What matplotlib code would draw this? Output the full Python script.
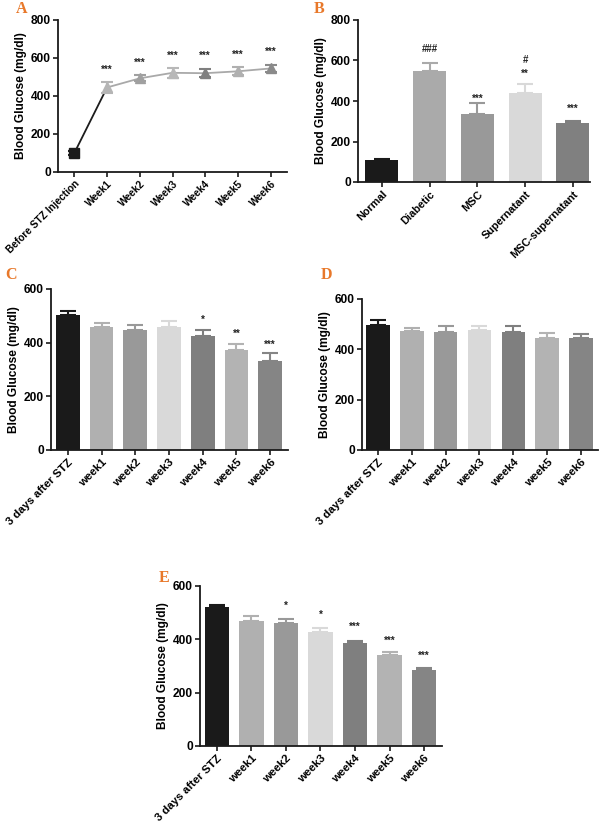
import matplotlib
matplotlib.use("Agg")
import matplotlib.pyplot as plt
import matplotlib.transforms as mtransforms

plt.rcParams['font.family'] = ['Liberation Sans', 'DejaVu Sans']
plt.rcParams['font.weight'] = 'bold'

# ---------------- Data ----------------
# Panel A
a_labels = ["Before STZ Injection", "Week1", "Week2", "Week3", "Week4", "Week5", "Week6"]
a_means = [100, 445, 493, 522, 520, 530, 545]
a_errs = [8, 28, 15, 25, 22, 22, 18]
a_colors = ["#1c1c1c", "#b5b5b5", "#a0a0a0", "#b8b8b8", "#7f7f7f", "#b0b0b0", "#8a8a8a"]
a_markers = ["s", "^", "^", "^", "^", "^", "^"]
a_annot = ["", "***", "***", "***", "***", "***", "***"]
a_annot_y = [0, 553, 586, 626, 626, 632, 647]

# Panel B
b_labels = ["Normal", "Diabetic", "MSC", "Supernatant", "MSC-supernatant"]
b_means = [110, 550, 337, 441, 291]
b_errs = [5, 38, 55, 42, 8]
b_colors = ["#1a1a1a", "#aaaaaa", "#999999", "#d9d9d9", "#808080"]
b_annot = ["", "###", "***", "**", "***"]
b_annot_y = [0, 657, 425, 548, 375]
b_annot2 = ["", "", "", "#", ""]
b_annot2_y = [0, 0, 0, 607, 0]

week_labels = ["3 days after STZ", "week1", "week2", "week3", "week4", "week5", "week6"]
week_colors = ["#1a1a1a", "#b0b0b0", "#999999", "#d9d9d9", "#7f7f7f", "#b3b3b3", "#858585"]

# Panel C
c_means = [504, 459, 447, 457, 426, 372, 333]
c_errs = [14, 15, 18, 24, 22, 22, 27]
c_annot = ["", "", "", "", "*", "**", "***"]
c_annot_y = [0, 0, 0, 0, 496, 443, 403]

# Panel D
d_means = [497, 474, 469, 476, 470, 447, 444]
d_errs = [20, 12, 25, 18, 23, 19, 17]

# Panel E
e_means = [521, 470, 462, 426, 385, 341, 286]
e_errs = [9, 17, 14, 18, 7, 11, 5]
e_annot = ["", "", "*", "*", "***", "***", "***"]
e_annot_y = [0, 0, 536, 502, 457, 405, 349]

# ---------------- Figure ----------------
fig = plt.figure(figsize=(6.0, 8.25), dpi=100)
W, H = 600.0, 825.0


def add_ax(l, r, t, b):
    return fig.add_axes([l / W, 1 - b / H, (r - l) / W, (b - t) / H])


TICK_FS = 8.6
YL_FS = 8.6
ORANGE = "#e8782a"


def style(ax, ymax, ystep):
    for s in ["top", "right"]:
        ax.spines[s].set_visible(False)
    for s in ["left", "bottom"]:
        ax.spines[s].set_linewidth(1.3)
        ax.spines[s].set_color("#1a1a1a")
    ax.set_ylim(0, ymax)
    ax.set_yticks(range(0, ymax + 1, ystep))
    ax.tick_params(axis='both', direction='out', width=1.2, length=3.5, color="#1a1a1a",
                   pad=1.5)
    ax.tick_params(axis='y', labelsize=TICK_FS)
    ax.set_ylabel("Blood Glucose (mg/dl)", fontsize=YL_FS, fontweight='bold', labelpad=3)
    for lab in ax.get_yticklabels():
        lab.set_fontweight('bold')


def annotate(ax, xs, texts, ys, fs=7.0):
    for x, t, y in zip(xs, texts, ys):
        if t:
            frac = 0.36 if '#' in t else 0.58
            off = mtransforms.offset_copy(ax.transData, fig=fig, x=0, y=-frac * fs, units='points')
            ax.text(x, y, t, ha='center', va='baseline', fontsize=fs, fontweight='bold',
                    color="#222222", transform=off)


def set_xlabels(ax, labels, fs):
    ax.set_xticks(range(len(labels)))
    ax.set_xticklabels(labels, rotation=45, ha='right', rotation_mode='anchor',
                       fontsize=fs, fontweight='bold')


def bar_panel(ax, means, errs, colors, labels, ymax, ystep, xfs, width=0.7):
    xs = list(range(len(means)))
    ax.bar(xs, means, width=width, color=colors, edgecolor='none', zorder=2)
    for x, m, e, c in zip(xs, means, errs, colors):
        ax.errorbar([x], [m], yerr=[[0], [e]], fmt='none', ecolor=c, elinewidth=1.5,
                    capsize=5.5, capthick=1.5, zorder=1)
    style(ax, ymax, ystep)
    set_xlabels(ax, labels, xfs)
    return xs


# Panel A
axA = add_ax(58, 287, 20, 172)
xa = list(range(len(a_means)))
axA.plot(xa[:2], a_means[:2], color="#1c1c1c", lw=1.3, zorder=2)
axA.plot(xa[1:], a_means[1:], color="#a9a9a9", lw=1.3, zorder=2)
for x, m, e, c, mk in zip(xa, a_means, a_errs, a_colors, a_markers):
    axA.errorbar([x], [m], yerr=[e], fmt=mk, color=c, ecolor=c, markersize=6.5,
                 elinewidth=1.5, capsize=4, capthick=1.5, zorder=3)
style(axA, 800, 200)
axA.set_xlim(-0.5, 6.5)
set_xlabels(axA, a_labels, 7.3)
annotate(axA, xa, a_annot, a_annot_y)

# Panel B
axB = add_ax(358, 590, 20, 182)
xb = bar_panel(axB, b_means, b_errs, b_colors, b_labels, 800, 200, 7.8, width=0.69)
axB.set_xlim(-0.5, 4.36)
annotate(axB, xb, b_annot, b_annot_y)
annotate(axB, xb, b_annot2, b_annot2_y)

# Panel C
axC = add_ax(51, 288, 289, 450)
xc = bar_panel(axC, c_means, c_errs, week_colors, week_labels, 600, 200, 8.2)
axC.set_xlim(-0.5, 6.53)
annotate(axC, xc, c_annot, c_annot_y)

# Panel D
axD = add_ax(362, 598, 299, 450)
xd = bar_panel(axD, d_means, d_errs, week_colors, week_labels, 600, 200, 8.2)
axD.set_xlim(-0.47, 6.5)

# Panel E
axE = add_ax(200, 442, 586, 746)
xe = bar_panel(axE, e_means, e_errs, week_colors, week_labels, 600, 200, 8.2)
axE.set_xlim(-0.49, 6.52)
annotate(axE, xe, e_annot, e_annot_y)

# Panel letters
for letter, px, py in [("A", 22, 9), ("B", 319, 9), ("C", 11, 275), ("D", 326, 275), ("E", 164, 578)]:
    fig.text(px / W, 1 - py / H, letter, ha='center', va='center', fontsize=11.5,
             fontweight='bold', family=['Liberation Serif', 'DejaVu Serif'], color=ORANGE)

fig.savefig("out.png", dpi=100)
